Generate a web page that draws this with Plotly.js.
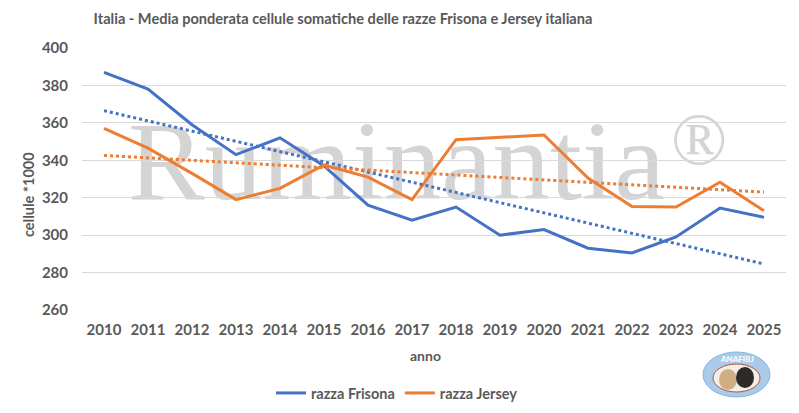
<!DOCTYPE html>
<html>
<head>
<meta charset="utf-8">
<script src="https://cdn.plot.ly/plotly-3.0.1.min.js"></script>
<style>
  html, body { margin: 0; padding: 0; background: #fff; }
  #chart { width: 799px; height: 413px; }
</style>
</head>
<body>
<div id="chart"></div>
<script>
// values
const anni = [2010, 2011, 2012, 2013, 2014, 2015, 2016, 2017, 2018, 2019, 2020, 2021, 2022, 2023, 2024, 2025];
const frisona = [387, 378, 359, 343, 352, 337, 316, 308, 315, 300, 303, 293, 290.5, 299, 314.5, 309.5];
const jersey = [357, 346.5, 333, 319, 325, 337.5, 331, 319, 351, 352.3, 353.5, 330.5, 315.3, 315, 328.3, 313];
// linear trend lines (Excel), read at the two ends
const trendAnni = [2010, 2025];
const trendFrisona = [366.5, 284.6];
const trendJersey = [342.6, 323];

const blu = "#4472C4";
const arancio = "#ED7D31";
const grigio = "#595959";
const font = "Lato, 'Open Sans', sans-serif";

// plot area in pixels: x 82..786, y 48..310
const px = x => (x - 82) / 704;
const py = y => (310 - y) / 262;

// watermark goes under the traces, so it is an svg image
const svg = '<svg xmlns="http://www.w3.org/2000/svg" width="704" height="262" viewBox="0 0 704 262">' +
  '<text x="46" y="151" font-family="Liberation Serif, serif" font-size="112" fill="#d4d4d4" textLength="537" lengthAdjust="spacingAndGlyphs">Ruminantia</text>' +
  '<text x="617" y="116" font-family="Liberation Serif, serif" font-size="74" fill="#d4d4d4" text-anchor="middle">\u00AE</text>' +
  '</svg>';
const watermark = "data:image/svg+xml;charset=utf-8," + encodeURIComponent(svg);

const data = [
  {
    x: anni, y: frisona, name: "razza Frisona", type: "scatter", mode: "lines",
    line: { color: blu, width: 3 }
  },
  {
    x: anni, y: jersey, name: "razza Jersey", type: "scatter", mode: "lines",
    line: { color: arancio, width: 3 }
  },
  {
    x: trendAnni, y: trendFrisona, type: "scatter", mode: "lines", showlegend: false,
    line: { color: blu, width: 3, dash: "dot" }
  },
  {
    x: trendAnni, y: trendJersey, type: "scatter", mode: "lines", showlegend: false,
    line: { color: arancio, width: 3, dash: "dot" }
  }
];

const layout = {
  width: 799,
  height: 413,
  margin: { l: 82, r: 13, t: 48, b: 103, autoexpand: false },
  paper_bgcolor: "#fff",
  plot_bgcolor: "#fff",
  font: { family: font, color: grigio },
  title: {
    text: "Italia - Media ponderata cellule somatiche delle razze Frisona e Jersey italiana",
    font: { family: font, size: 14.6, color: grigio, weight: "bold" },
    x: 343 / 799, xanchor: "center", xref: "container",
    y: 1 - 19 / 413, yanchor: "middle", yref: "container"
  },
  xaxis: {
    type: "linear",
    range: [2009.5, 2025.5],
    tickvals: anni,
    ticktext: anni.map(String),
    showgrid: false,
    zeroline: false,
    showline: false,
    tickfont: { family: font, size: 15, color: grigio, weight: "bold" },
    ticklabelstandoff: 9
  },
  yaxis: {
    range: [260, 400],
    dtick: 20,
    showgrid: true,
    gridcolor: "#d9d9d9",
    gridwidth: 1,
    zeroline: false,
    showline: false,
    tickfont: { family: font, size: 15, color: grigio, weight: "bold" },
    ticklabelstandoff: 13
  },
  showlegend: true,
  legend: {
    orientation: "h",
    x: px(397), xanchor: "center",
    y: py(393), yanchor: "middle",
    font: { family: font, size: 14.5, color: grigio, weight: "bold" },
    itemwidth: 30
  },
  images: [{
    source: watermark,
    xref: "paper", yref: "paper",
    x: 0, y: 1, sizex: 1, sizey: 1,
    xanchor: "left", yanchor: "top",
    sizing: "stretch",
    layer: "below"
  }],
  annotations: [
    {
      text: "anno", xref: "paper", yref: "paper", x: px(425), y: py(355),
      xanchor: "center", yanchor: "middle",
      showarrow: false, font: { family: font, size: 14, color: grigio, weight: "bold" }
    },
    {
      text: "cellule *1000", xref: "paper", yref: "paper", x: px(28), y: py(195),
      xanchor: "center", yanchor: "middle",
      textangle: -90, showarrow: false,
      font: { family: font, size: 14.5, color: grigio, weight: "bold" }
    },
    {
      text: "ANAFIBJ", xref: "paper", yref: "paper", x: px(737), y: py(358.5),
      xanchor: "center", yanchor: "middle",
      showarrow: false, font: { family: font, size: 8, color: "#fff", weight: "bold" }
    }
  ],
  // ANAFIBJ logo, drawn roughly
  shapes: [
    {
      type: "circle", xref: "paper", yref: "paper", layer: "below",
      x0: px(703), x1: px(770), y0: py(397), y1: py(352),
      fillcolor: "#a9cbe9", line: { color: "#86b4de", width: 1 }
    },
    {
      type: "circle", xref: "paper", yref: "paper", layer: "below",
      x0: px(713), x1: px(760), y0: py(392), y1: py(364),
      fillcolor: "#f4efe6", line: { color: "#b5523b", width: 1 }
    },
    {
      type: "circle", xref: "paper", yref: "paper", layer: "below",
      x0: px(719), x1: px(737), y0: py(390), y1: py(369),
      fillcolor: "#d1ad86", line: { width: 0 }
    },
    {
      type: "circle", xref: "paper", yref: "paper", layer: "below",
      x0: px(736), x1: px(754), y0: py(388), y1: py(367),
      fillcolor: "#2e2a28", line: { width: 0 }
    }
  ]
};

Plotly.newPlot("chart", data, layout, { displayModeBar: false, staticPlot: true });
</script>
</body>
</html>
